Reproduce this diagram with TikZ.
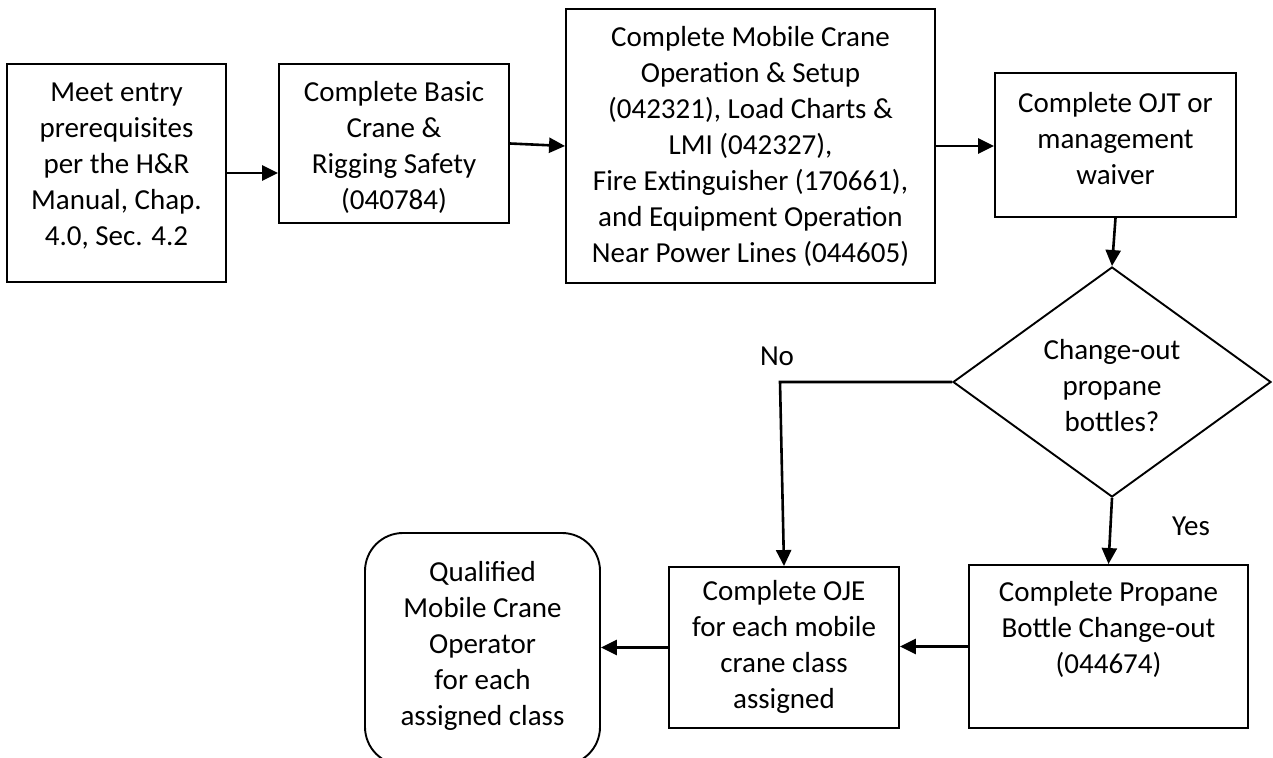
\documentclass[tikz,border=0pt]{standalone}
\usepackage{fontspec}
\setmainfont{Carlito}
\usetikzlibrary{shapes.geometric,arrows.meta}
\begin{document}
\begin{tikzpicture}[x=1pt,y=-1pt,
  every node/.style={inner sep=0pt},
  txt/.style={font=\fontsize{29}{36}\selectfont, align=center},
  procbox/.style={draw, line width=1.9pt, rectangle},
  endbox/.style={draw, line width=1.9pt, rectangle, rounded corners=38pt},
  decbox/.style={draw, line width=1.9pt, diamond, aspect=1.38},
  flow/.style={line width=2.6pt, -{Triangle[length=16pt,width=15pt]}},
  lbl/.style={font=\fontsize{29}{36}\selectfont, anchor=base}
]
\clip (0,0) rectangle (1273,757);
\fill[white] (0,0) rectangle (1273,757);
\useasboundingbox (0,0) rectangle (1273,757);

% shapes
\node[procbox, minimum width=219pt, minimum height=218pt] (b1) at (116.5,173) {};
\node[procbox, minimum width=230pt, minimum height=159pt] (b2) at (394,143.5) {};
\node[procbox, minimum width=369pt, minimum height=274pt] (b3) at (750.5,146) {};
\node[procbox, minimum width=241pt, minimum height=144pt] (b4) at (1115.5,145) {};
\node[decbox, minimum width=318pt, minimum height=230pt] (d) at (1112,382) {};
\node[procbox, minimum width=230pt, minimum height=161pt] (b5) at (784,647.5) {};
\node[procbox, minimum width=279pt, minimum height=163pt] (b6) at (1108.5,646.5) {};
\node[endbox, minimum width=235pt, minimum height=232pt] (b7) at (482.5,649) {};

% texts
\node[txt] (t1) at (116.5,166) {Meet entry\\prerequisites\\per the H\&R\\Manual, Chap.\\4.0, Sec. 4.2};
\node[txt] (t2) at (394,147) {Complete Basic\\Crane \&\\Rigging Safety\\(040784)};
\node[txt] (t3) at (750.5,146) {Complete Mobile Crane\\Operation \& Setup\\(042321), Load Charts \&\\LMI (042327),\\Fire Extinguisher (170661),\\and Equipment Operation\\Near Power Lines (044605)};
\node[txt] (t4) at (1115.5,139) {Complete OJT or\\management\\waiver};
\node[txt] (td) at (1112,386) {Change-out\\propane\\bottles?};
\node[txt] (t5) at (784,647) {Complete OJE\\for each mobile\\crane class\\assigned};
\node[txt] (t6) at (1108.5,629) {Complete Propane\\Bottle Change-out\\(044674)};
\node[txt] (t7) at (482.5,646) {Qualified\\Mobile Crane\\Operator\\for each\\assigned class};

\node[lbl] (no) at (777,365) {No};
\node[lbl] (yes) at (1191,535) {Yes};
\coordinate (nocorner) at (780,382);

% connectors
\draw[flow] (b1.east) -- (b1.east -| b2.west);
\draw[flow] (b2.east) -- (b3.west);
\draw[flow] (b3.east) -- (b3.east -| b4.west);
\draw[flow] (b4.south) -- (d.north);
\draw[flow] (d.west) -- (nocorner) -- (b5.north);
\draw[flow] (d.south) -- (b6.north);
\draw[flow] (b6.west) -- (b6.west -| b5.east);
\draw[flow] (b5.west) -- (b5.west -| b7.east);
\end{tikzpicture}
\end{document}
